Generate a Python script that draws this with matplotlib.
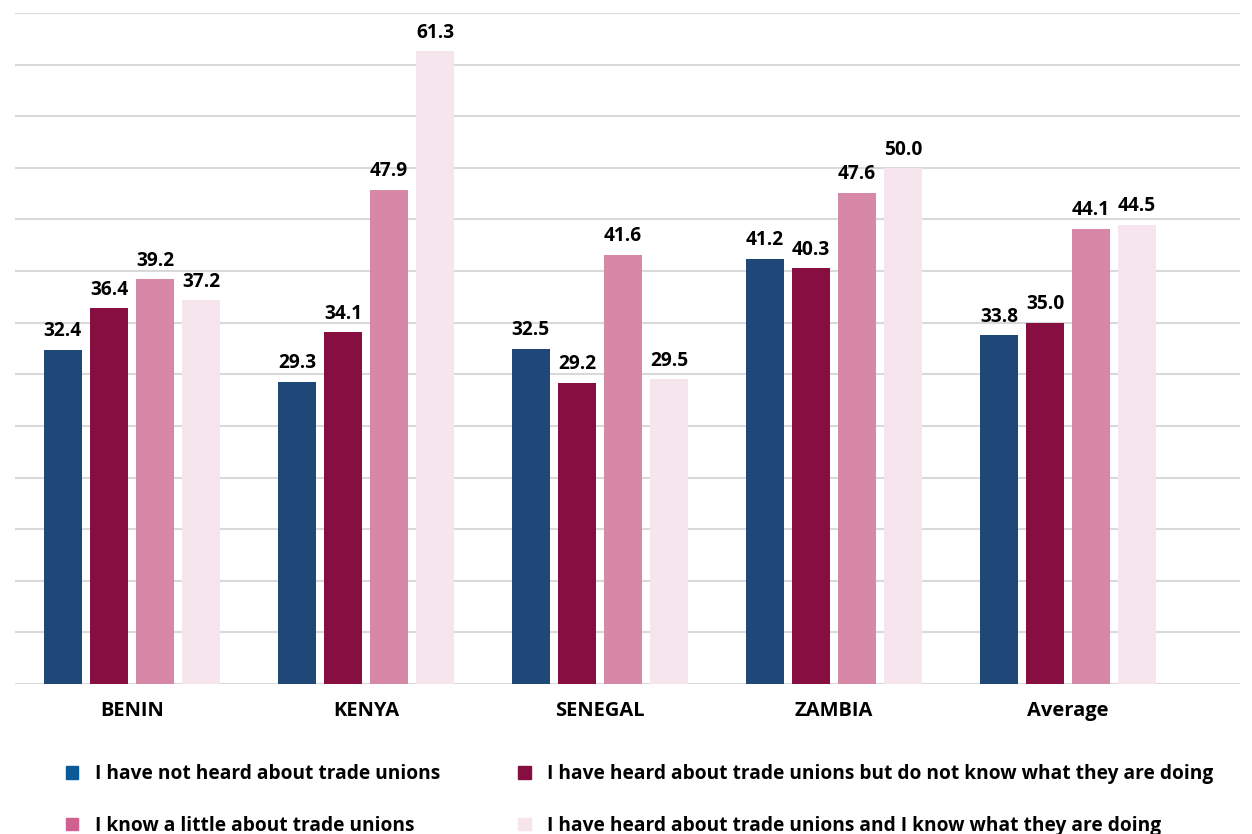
import numpy as np
import matplotlib.pyplot as plt
from matplotlib.patches import Patch

plt.rcParams['font.family'] = ['Open Sans', 'DejaVu Sans']

countries = ['BENIN', 'KENYA', 'SENEGAL', 'ZAMBIA', 'Average']
not_heard = [32.4, 29.3, 32.5, 41.2, 33.8]
heard_dont_know = [36.4, 34.1, 29.2, 40.3, 35.0]
know_little = [39.2, 47.9, 41.6, 47.6, 44.1]
heard_and_know = [37.2, 61.3, 29.5, 50.0, 44.5]

labels = ['I have not heard about trade unions',
          'I have heard about trade unions but do not know what they are doing',
          'I know a little about trade unions',
          'I have heard about trade unions and I know what they are doing']
colors = ['#1F4879', '#870E40', '#D888A7', '#F6E5ED']
legend_colors = ['#0A5A9A', '#870E40', '#D0608F', '#F6E5ED']

series = [not_heard, heard_dont_know, know_little, heard_and_know]

fig = plt.figure(figsize=(12.52, 8.34), dpi=100)
ax = fig.add_axes([15 / 1252, 150 / 834, 1225 / 1252, 671 / 834])

x = np.arange(len(countries))
width = 0.162
step = 0.197
for k, (vals, c) in enumerate(zip(series, colors)):
    pos = x + (k - 1.5) * step
    bars = ax.bar(pos, vals, width, color=c, zorder=3)
    for b, v in zip(bars, vals):
        ax.annotate(f'{v:.1f}', (b.get_x() + b.get_width() / 2, v),
                    xytext=(0, 6), textcoords='offset points',
                    ha='center', va='bottom', fontsize=13.8, fontweight='bold')

ax.set_ylim(0, 65)
ax.set_xlim(-0.5, 4.735)
ax.set_yticks(np.arange(0, 66, 5))
ax.yaxis.grid(True, color='#D9D9D9', linewidth=1.5, zorder=0)
ax.tick_params(axis='y', left=False, labelleft=False)
ax.tick_params(axis='x', length=0, pad=12)
ax.set_xticks(x)
ax.set_xticklabels(countries, fontsize=14.5, fontweight='bold')
for s in ax.spines.values():
    s.set_visible(False)

handles = [Patch(color=c) for c in legend_colors]
order = [0, 2, 1, 3]
fig.legend([handles[i] for i in order], [labels[i] for i in order],
           ncol=2, loc='lower left', bbox_to_anchor=(49 / 1252, -0.0226),
           frameon=False, handlelength=0.63, handleheight=0.63,
           handletextpad=0.85, columnspacing=4.1, labelspacing=1.64,
           prop={'size': 13.8, 'weight': 'bold'})

fig.savefig('out.png', dpi=100)
